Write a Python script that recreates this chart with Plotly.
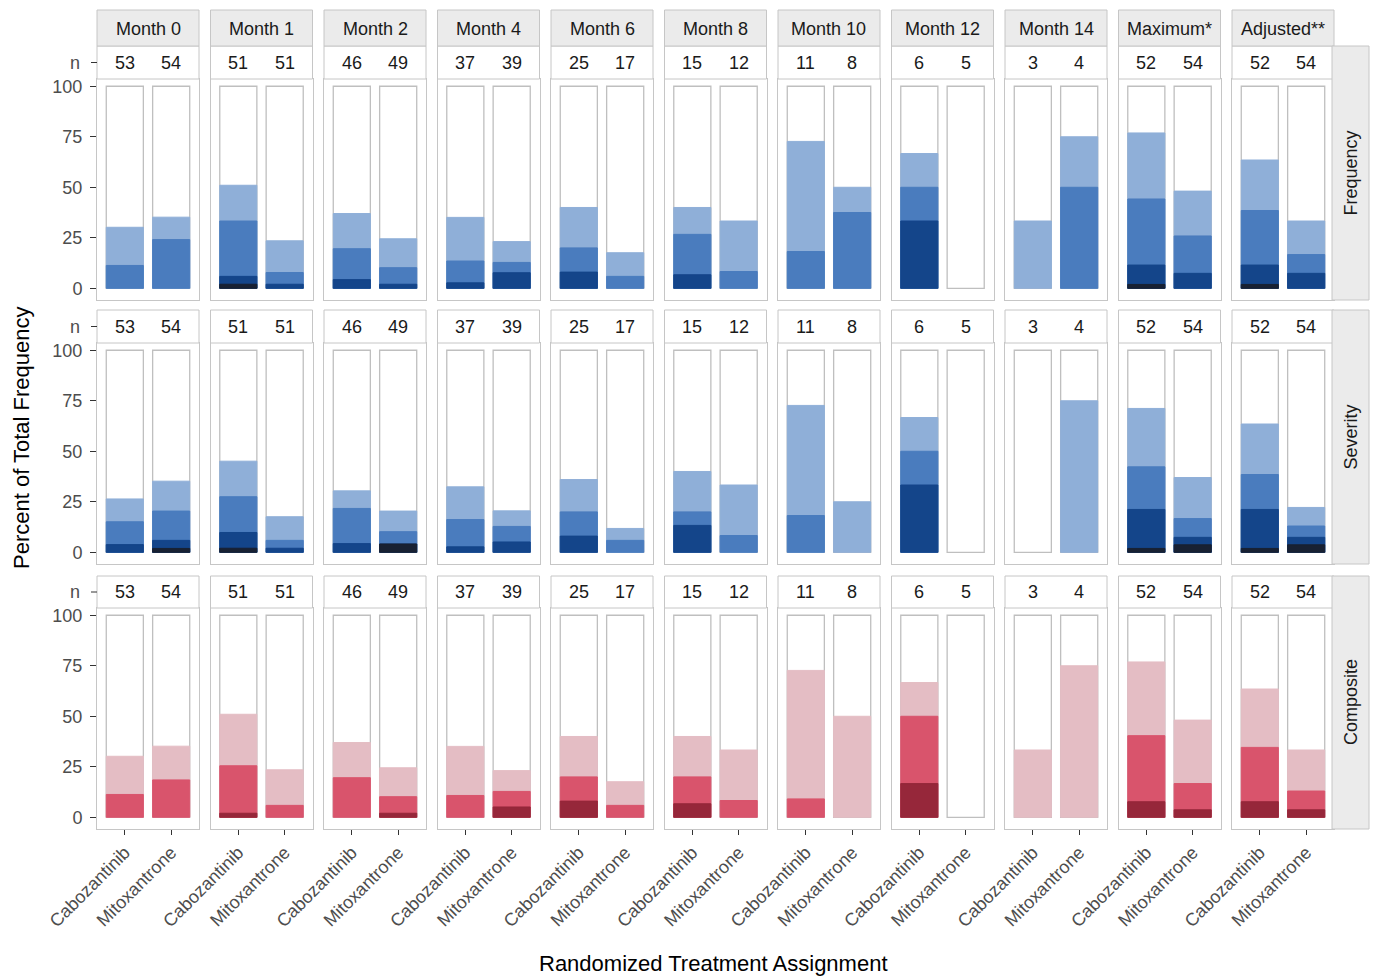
import plotly.graph_objects as go

# ---------------- data ----------------
facets = ["Month 0", "Month 1", "Month 2", "Month 4", "Month 6", "Month 8",
          "Month 10", "Month 12", "Month 14", "Maximum*", "Adjusted**"]
arms = ["Cabozantinib", "Mitoxantrone"]
measures = ["Frequency", "Severity", "Composite"]

# patients per facet x arm (Cab, Mito, Cab, Mito, ...)
n_patients = [53, 54, 51, 51, 46, 49, 37, 39, 25, 17, 15, 12,
              11, 8, 6, 5, 3, 4, 52, 54, 52, 54]

# percent of patients at or above each grade (cumulative), per facet x arm
freq_ge1 = [30.2, 35.2, 51.0, 23.5, 37.0, 24.5, 35.1, 23.1, 40.0, 17.6, 40.0, 33.3,
            72.7, 50.0, 66.7, 0, 33.3, 75.0, 76.9, 48.1, 63.5, 33.3]
freq_ge2 = [11.3, 24.1, 33.3, 7.8, 19.6, 10.2, 13.5, 12.8, 20.0, 5.9, 26.7, 8.3,
            18.2, 37.5, 50.0, 0, 0, 50.0, 44.2, 25.9, 38.5, 16.7]
freq_ge3 = [0, 0, 5.9, 2.0, 4.3, 2.0, 2.7, 7.7, 8.0, 0, 6.7, 0,
            0, 0, 33.3, 0, 0, 0, 11.5, 7.4, 11.5, 7.4]
freq_ge4 = [0, 0, 2.0, 0, 0, 0, 0, 0, 0, 0, 0, 0,
            0, 0, 0, 0, 0, 0, 1.9, 0, 1.9, 0]

sev_ge1 = [26.4, 35.2, 45.1, 17.6, 30.4, 20.4, 32.4, 20.5, 36.0, 11.8, 40.0, 33.3,
           72.7, 25.0, 66.7, 0, 0, 75.0, 71.2, 37.0, 63.5, 22.2]
sev_ge2 = [15.1, 20.4, 27.5, 5.9, 21.7, 10.2, 16.2, 12.8, 20.0, 5.9, 20.0, 8.3,
           18.2, 0, 50.0, 0, 0, 0, 42.3, 16.7, 38.5, 13.0]
sev_ge3 = [3.8, 5.9, 9.8, 2.0, 4.3, 4.1, 2.7, 5.1, 8.0, 0, 13.3, 0,
           0, 0, 33.3, 0, 0, 0, 21.2, 7.4, 21.2, 7.4]
sev_ge4 = [0, 1.9, 2.0, 0, 0, 4.1, 0, 0, 0, 0, 0, 0,
           0, 0, 0, 0, 0, 0, 1.9, 3.7, 1.9, 3.7]

comp_ge1 = [30.2, 35.2, 51.0, 23.5, 37.0, 24.5, 35.1, 23.1, 40.0, 17.6, 40.0, 33.3,
            72.7, 50.0, 66.7, 0, 33.3, 75.0, 76.9, 48.1, 63.5, 33.3]
comp_ge2 = [11.3, 18.5, 25.5, 5.9, 19.6, 10.2, 10.8, 12.8, 20.0, 5.9, 20.0, 8.3,
            9.1, 0, 50.0, 0, 0, 0, 40.4, 16.7, 34.6, 13.0]
comp_ge3 = [0, 0, 2.0, 0, 0, 2.0, 0, 5.1, 8.0, 0, 6.7, 0,
            0, 0, 16.7, 0, 0, 0, 7.7, 3.7, 7.7, 3.7]

blue_levels = ["#8FAFD8", "#4A7CBE", "#14458A", "#182133"]
pink_levels = ["#E4BDC4", "#D9546C", "#96273A"]

row_series = [
    ([freq_ge1, freq_ge2, freq_ge3, freq_ge4], blue_levels),
    ([sev_ge1, sev_ge2, sev_ge3, sev_ge4], blue_levels),
    ([comp_ge1, comp_ge2, comp_ge3], pink_levels),
]

# ---------------- geometry (pixels) ----------------
W, H = 1373, 977
COL_X0, COL_STEP, COL_W = 97, 113.5, 102
PANEL_Y = [(79, 300), (343, 564), (608, 829)]
NSTRIP_Y = [(46, 79), (310, 343), (576, 608)]
TOP_STRIP_Y = (10, 46)
RSTRIP_X = (1332, 1369)

PANEL_LINE = "#c6c6c6"
BAR_LINE = "#bfbfbf"
STRIP_FILL = "#ebebeb"
TICK_COL = "#333333"
TICKLAB_COL = "#4d4d4d"
FONT = "Liberation Sans, Arial, sans-serif"


def px(x):
    return x / W


def py(y):
    return 1 - y / H


fig = go.Figure()
layout = dict(
    template="none",
    width=W, height=H, autosize=False,
    margin=dict(l=0, r=0, t=0, b=0, pad=0),
    paper_bgcolor="white", plot_bgcolor="white",
    barmode="overlay", showlegend=False,
    font=dict(family=FONT, size=18, color="#1a1a1a"),
)
shapes = []
annotations = []

for r in range(3):
    series, colors = row_series[r]
    y0, y1 = PANEL_Y[r]
    for c in range(len(facets)):
        k = r * len(facets) + c + 1
        sfx = "" if k == 1 else str(k)
        x0 = COL_X0 + c * COL_STEP
        x1 = x0 + COL_W
        layout["xaxis" + sfx] = dict(
            domain=[px(x0), px(x1)], range=[0.4, 2.6], anchor="y" + sfx,
            automargin=False,
            tickmode="array", tickvals=[1, 2], ticktext=arms,
            showticklabels=(r == 2), ticks="outside" if r == 2 else "",
            ticklen=5, tickwidth=1, tickcolor=TICK_COL, tickangle=-45,
            tickfont=dict(size=18, color=TICKLAB_COL, family=FONT),
            showgrid=False, zeroline=False, showline=True, mirror=True,
            linecolor=PANEL_LINE, linewidth=1, fixedrange=True,
        )
        layout["yaxis" + sfx] = dict(
            domain=[py(y1), py(y0)], range=[-5.8, 103.6], anchor="x" + sfx,
            automargin=False,
            tickmode="array", tickvals=[0, 25, 50, 75, 100],
            showticklabels=(c == 0), ticks="outside" if c == 0 else "",
            ticklen=6, tickwidth=1, tickcolor=TICK_COL, ticklabelstandoff=4,
            tickfont=dict(size=18, color=TICKLAB_COL, family=FONT),
            showgrid=False, zeroline=False, showline=True, mirror=True,
            linecolor=PANEL_LINE, linewidth=1, fixedrange=True,
        )
        # outline bars (100%)
        fig.add_trace(go.Bar(
            x=[1, 2], y=[100, 100], width=0.8,
            marker=dict(color="white", line=dict(color=BAR_LINE, width=1.3)),
            xaxis="x" + sfx, yaxis="y" + sfx, hoverinfo="skip",
        ))
        for lvl, vals in enumerate(series):
            pair = vals[2 * c: 2 * c + 2]
            yv = [v if v > 0 else None for v in pair]
            fig.add_trace(go.Bar(
                x=[1, 2], y=yv, width=0.8,
                marker=dict(color=colors[lvl], line=dict(color=colors[lvl], width=1)),
                xaxis="x" + sfx, yaxis="y" + sfx,
            ))
        # n strip
        ny0, ny1 = NSTRIP_Y[r]
        shapes.append(dict(type="rect", xref="paper", yref="paper",
                           x0=px(x0), x1=px(x1), y0=py(ny1), y1=py(ny0),
                           fillcolor="white", line=dict(color=PANEL_LINE, width=1)))
        for j in range(2):
            annotations.append(dict(
                xref="x" + sfx, yref="paper", x=j + 1, y=py((ny0 + ny1) / 2),
                text=str(n_patients[2 * c + j]), showarrow=False,
                font=dict(size=18, color="#1a1a1a", family=FONT),
                xanchor="center", yanchor="middle"))
        # top strips
        if r == 0:
            shapes.append(dict(type="rect", xref="paper", yref="paper",
                               x0=px(x0), x1=px(x1),
                               y0=py(TOP_STRIP_Y[1]), y1=py(TOP_STRIP_Y[0]),
                               fillcolor=STRIP_FILL, line=dict(color=PANEL_LINE, width=1)))
            annotations.append(dict(
                xref="paper", yref="paper", x=px((x0 + x1) / 2),
                y=py(sum(TOP_STRIP_Y) / 2 + 1), text=facets[c], showarrow=False,
                font=dict(size=18, color="#1a1a1a", family=FONT),
                xanchor="center", yanchor="middle"))
    # "n" label and its tick
    ny0, ny1 = NSTRIP_Y[r]
    ymid = (ny0 + ny1) / 2
    shapes.append(dict(type="line", xref="paper", yref="paper",
                       x0=px(COL_X0 - 6), x1=px(COL_X0), y0=py(ymid), y1=py(ymid),
                       line=dict(color=TICK_COL, width=1)))
    annotations.append(dict(
        xref="paper", yref="paper", x=px(COL_X0 - 15), y=py(ymid), text="n",
        showarrow=False, font=dict(size=18, color=TICKLAB_COL, family=FONT),
        xanchor="right", yanchor="middle"))
    # right strip
    shapes.append(dict(type="rect", xref="paper", yref="paper",
                       x0=px(RSTRIP_X[0]), x1=px(RSTRIP_X[1]),
                       y0=py(y1), y1=py(ny0),
                       fillcolor=STRIP_FILL, line=dict(color=PANEL_LINE, width=1)))
    annotations.append(dict(
        xref="paper", yref="paper", x=px(sum(RSTRIP_X) / 2), y=py((ny0 + y1) / 2),
        text=measures[r], textangle=-90, showarrow=False,
        font=dict(size=18, color="#1a1a1a", family=FONT),
        xanchor="center", yanchor="middle"))

# axis titles
annotations.append(dict(
    xref="paper", yref="paper", x=px(21), y=py(438),
    text="Percent of Total Frequency", textangle=-90, showarrow=False,
    font=dict(size=22, color="#000000", family=FONT),
    xanchor="center", yanchor="middle"))
annotations.append(dict(
    xref="paper", yref="paper", x=px(713), y=py(963),
    text="Randomized Treatment Assignment", showarrow=False,
    font=dict(size=22, color="#000000", family=FONT),
    xanchor="center", yanchor="middle"))

layout["shapes"] = shapes
layout["annotations"] = annotations
fig.update_layout(**layout)

fig.write_html("out.html", config={"displayModeBar": False},
               post_script="document.body.style.margin='0';")
